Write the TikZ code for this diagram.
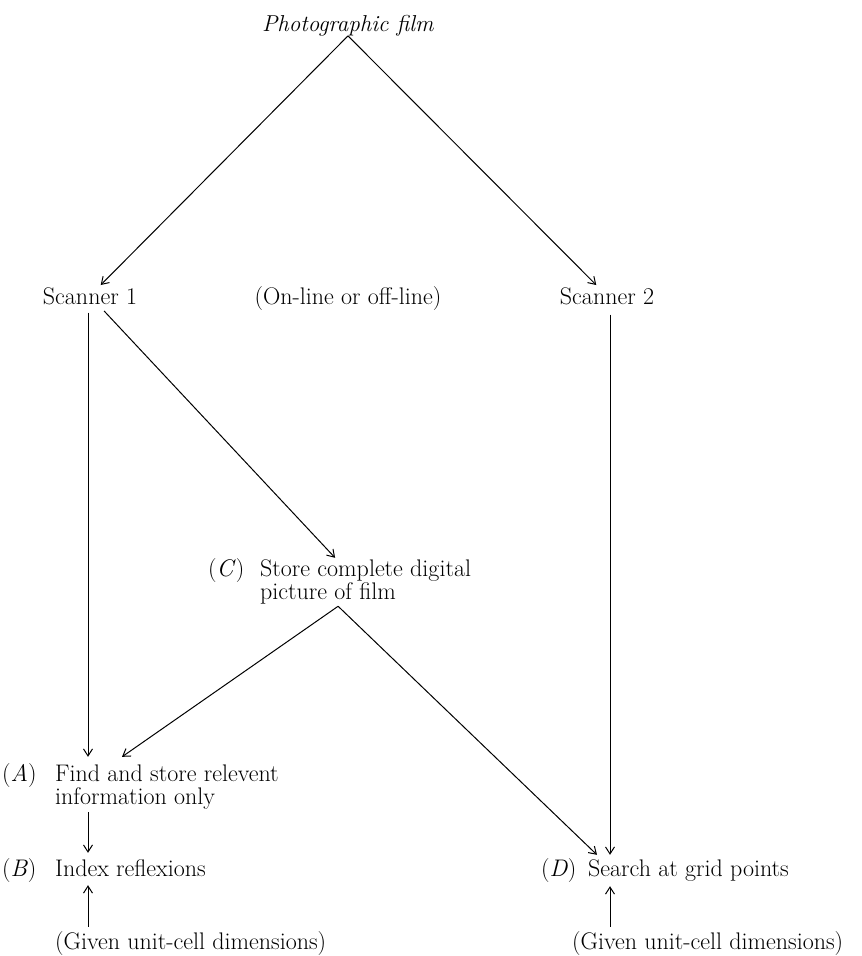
\documentclass[tikz,border=0pt]{standalone}
\usetikzlibrary{arrows.meta}
\begin{document}
\begin{tikzpicture}[x=1pt,y=-1pt,
  lbl/.style={inner sep=0pt, font=\fontsize{24}{22}\selectfont},
  arr/.style={-{Straight Barb[length=7pt,width=9pt]}, line width=1pt}]
\useasboundingbox (0,0) rectangle (862,956);

\node[inner sep=0pt,font=\fontsize{23}{22}\selectfont,anchor=base] (film) at (348,31) {\textit{Photographic film}};
\node[lbl,anchor=base,inner sep=2pt] (s1) at (90,304) {Scanner 1};
\node[lbl,anchor=base] (ol) at (348,304) {(On-line or off-line)};
\node[lbl,anchor=base,inner sep=2pt] (s2) at (607,304) {Scanner 2};
\node[lbl,anchor=base west] (C) at (208,576)
  {\begin{tabular}[t]{@{}l@{}}\makebox[52pt][l]{(\textit{C})}Store complete digital\\\hspace*{52pt}picture of film\end{tabular}};
\node[lbl,anchor=base west] (A) at (2,781)
  {\begin{tabular}[t]{@{}l@{}}\makebox[53pt][l]{(\textit{A})}Find and store relevent\\\hspace*{53pt}information only\end{tabular}};
\node[lbl,anchor=base west] (B) at (2,876) {\makebox[53pt][l]{(\textit{B})}Index reflexions};
\node[lbl,anchor=base west] (GL) at (55,949) {(Given unit-cell dimensions)};
\node[lbl,anchor=base west] (D) at (541,876) {\makebox[47pt][l]{(\textit{D})}Search at grid points};
\node[lbl,anchor=base west] (GR) at (572,949) {(Given unit-cell dimensions)};

\draw[arr] (film.south) -- (s1);
\draw[arr] (film.south) -- (s2);
\draw[arr,shorten <=6pt,shorten >=6pt] ([xshift=-2pt]s1.south) -- ([xshift=-2pt]s1.south |- A.north);
\draw[arr,shorten <=6pt] ([xshift=10pt]s1.south) -- ([xshift=-4.5pt]C.north);
\draw[arr] ([xshift=-1.5pt]C.south) -- ([xshift=120pt,yshift=6pt]A.north west);
\draw[arr] ([xshift=-1.5pt]C.south) -- ([xshift=56pt,yshift=3pt]D.north west);
\draw[arr,shorten <=8pt,shorten >=3pt] ([xshift=3pt]s2.south) -- ([xshift=3pt]s2.south |- D.north);
\draw[arr,shorten <=1pt,shorten >=5pt] ([xshift=86pt]A.south west) -- ([xshift=86pt]A.south west |- B.north);
\draw[arr,shorten <=4pt,shorten >=3pt] ([xshift=33pt]GL.north west) -- ([xshift=33pt]GL.north west |- B.south);
\draw[arr,shorten <=4pt,shorten >=4pt] ([xshift=38pt]GR.north west) -- ([xshift=38pt]GR.north west |- D.south);
\end{tikzpicture}
\end{document}
